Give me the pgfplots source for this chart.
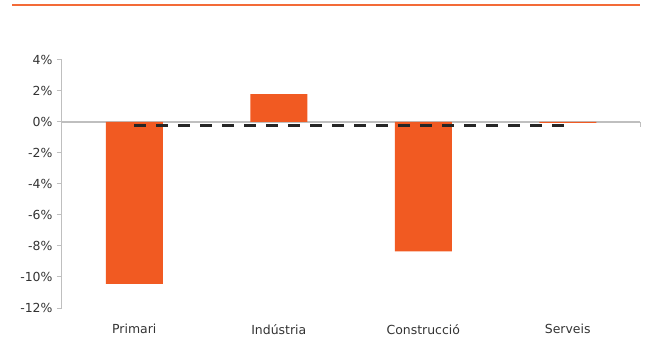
\documentclass[border=0pt]{standalone}
\usepackage{fontspec}
\setmainfont{DejaVu Sans}
\usepackage{pgfplots}
\pgfplotsset{compat=1.18}
\definecolor{barorange}{HTML}{F15A22}
\definecolor{axgray}{HTML}{BFBFBF}
\definecolor{txt}{HTML}{333333}
\begin{document}
\begin{tikzpicture}
\path[use as bounding box] (0,0) rectangle (647bp,340bp);
\draw[barorange!90, line width=1.5bp] (12bp,335bp) -- (640bp,335bp);
\begin{axis}[
  at={(62bp,32bp)}, anchor=south west,
  scale only axis, width=578bp, height=248bp,
  xmin=-0.5, xmax=3.5, ymin=-12, ymax=4,
  axis y line=left, axis x line=bottom,
  axis line style={-, axgray, line width=1bp},
  x axis line style={draw=none},
  xtick={0,1,2,3}, xticklabels={Primari,Indústria,Construcció,Serveis},
  xtick style={draw=none},
  ytick={-12,-10,...,4},
  yticklabel={\pgfmathprintnumber{\tick}\%},
  ytick style={axgray, line width=1bp},
  tick align=outside, major tick length=5bp,
  /pgf/number format/assume math mode=true,
  ticklabel style={font=\fontsize{12.5}{14}\selectfont, text=txt},
  xticklabel style={yshift=-8bp},
  yticklabel style={xshift=-1bp},
  clip=false,
]
\draw[axgray, line width=1.2bp] (axis cs:-0.5,0) -- (axis cs:3.5,0);
\draw[axgray, line width=1bp] (axis cs:3.5,0) -- (axis cs:3.5,-0.3);
\addplot[ybar, bar width=57bp, fill=barorange, draw=none] coordinates {(0,-10.45) (1,1.8) (2,-8.35) (3,-0.06)};
\addplot[black!85, line width=3bp, dash pattern=on 12bp off 10bp] coordinates {(0,-0.2) (1,-0.2) (2,-0.2) (3,-0.2)};
\end{axis}
\end{tikzpicture}
\end{document}
